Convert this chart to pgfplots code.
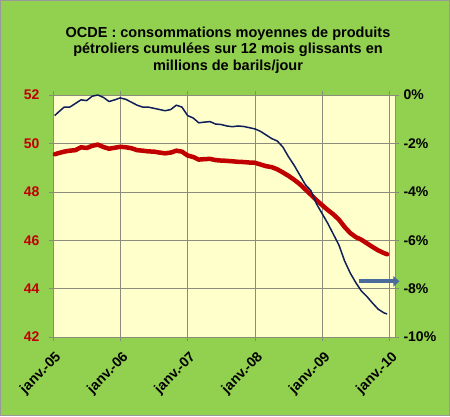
\documentclass[border=0pt]{standalone}
\usepackage{fontspec}
\setmainfont{Liberation Sans}
\usepackage{pgfplots}
\usepackage{pgfplotstable}
\pgfplotsset{compat=1.18}
\usetikzlibrary{arrows.meta,backgrounds}

\definecolor{bggreen}{HTML}{92D050}
\definecolor{plotbg}{HTML}{FFFFCC}
\definecolor{redline}{HTML}{C00000}
\definecolor{navyline}{HTML}{0F1F5A}
\definecolor{arrowblue}{HTML}{4A6B9B}
\definecolor{gridgray}{HTML}{8C8C7C}

% mois depuis janv.-05, millions de barils/jour
\pgfplotstableread{
m    v
0.3  49.55
1    49.60
2    49.66
3    49.70
4    49.72
5    49.84
6    49.81
7    49.90
8    49.95
9    49.85
10   49.78
11   49.82
12   49.86
13   49.84
14   49.80
15   49.72
16   49.70
17   49.67
18   49.66
19   49.62
20   49.59
21   49.62
22   49.70
23   49.66
24   49.50
25   49.44
26   49.33
27   49.35
28   49.36
29   49.31
30   49.29
31   49.28
32   49.26
33   49.24
34   49.23
35   49.21
36   49.20
37   49.13
38   49.06
39   49.02
40   48.93
41   48.80
42   48.66
43   48.50
44   48.32
45   48.10
46   47.88
47   47.65
48   47.45
49   47.25
50   47.07
51   46.85
52   46.55
53   46.30
54   46.13
55   46.02
56   45.87
57   45.72
58   45.58
59   45.47
59.6 45.42
}\conso

% variation sur 12 mois, %
\pgfplotstableread{
m    v
0.3  -0.85
1    -0.70
2    -0.50
3    -0.50
4    -0.35
5    -0.20
6    -0.23
7    -0.05
8     0.00
9    -0.10
10   -0.27
11   -0.20
12   -0.12
13   -0.18
14   -0.30
15   -0.42
16   -0.50
17   -0.50
18   -0.55
19   -0.60
20   -0.65
21   -0.60
22   -0.42
23   -0.50
24   -0.85
25   -0.95
26   -1.15
27   -1.12
28   -1.10
29   -1.20
30   -1.22
31   -1.28
32   -1.31
33   -1.28
34   -1.30
35   -1.35
36   -1.40
37   -1.50
38   -1.65
39   -1.80
40   -1.90
41   -2.15
42   -2.55
43   -2.90
44   -3.30
45   -3.70
46   -3.95
47   -4.50
48   -4.90
49   -5.30
50   -5.75
51   -6.20
52   -6.85
53   -7.35
54   -7.75
55   -8.10
56   -8.33
57   -8.60
58   -8.85
59   -9.00
59.6 -9.05
}\variation

\begin{document}
\begin{tikzpicture}
\useasboundingbox (-53pt,-79pt) rectangle (397pt,337pt);

\pgfplotsset{
  base/.style={
    at={(0pt,0pt)}, anchor=south west,
    scale only axis, width=342pt, height=242pt,
    xmin=0, xmax=61,
    tick align=outside, major tick length=4pt,
    axis line style={gridgray, line width=0.6pt},
    tick style={gridgray, line width=0.6pt},
    /pgf/number format/assume math mode=true,
    tick label style={font=\fontsize{14}{16}\selectfont\bfseries},
  }
}

\begin{axis}[base,
  ymin=42, ymax=52,
  axis background/.style={fill=plotbg},
  xtick={0,12,24,36,48,60},
  xticklabels={janv.-05,janv.-06,janv.-07,janv.-08,janv.-09,janv.-10},
  xticklabel style={xshift=6.7pt, yshift=-13.5pt, rotate=45, anchor=east, inner sep=1pt},
  ytick={42,44,46,48,50,52},
  yticklabel style={text=redline, xshift=-6pt},
  grid=major, grid style={gridgray, line width=0.6pt},
]
\addplot[redline, line width=4.5pt, line join=round, line cap=round] table[x=m, y=v] {\conso};
\end{axis}

\begin{axis}[base,
  ymin=-10, ymax=0,
  axis y line*=right, axis x line=none,
  ytick={-10,-8,-6,-4,-2,0},
  yticklabels={-10\%,-8\%,-6\%,-4\%,-2\%,0\%},
  yticklabel style={xshift=1pt},
  clip=false,
]
\addplot[navyline, line width=1.5pt, line join=round] table[x=m, y=v] {\variation};
\draw[arrowblue, line width=4pt, -{Triangle[length=6pt, width=10pt]}]
  (axis cs:54.5,-7.7) -- (axis cs:61.8,-7.7);
\end{axis}

\node[font=\fontsize{14.5}{16.5}\selectfont\bfseries, align=center] at (175pt,287pt)
  {OCDE : consommations moyennes de produits\\pétroliers cumulées sur 12 mois glissants en\\millions de barils/jour};

\begin{scope}[on background layer]
\fill[bggreen] (-53pt,-79pt) rectangle (397pt,337pt);
\draw[gray!80, line width=1pt] (-52.5pt,-78.5pt) rectangle (396.5pt,336.5pt);
\end{scope}
\end{tikzpicture}
\end{document}
